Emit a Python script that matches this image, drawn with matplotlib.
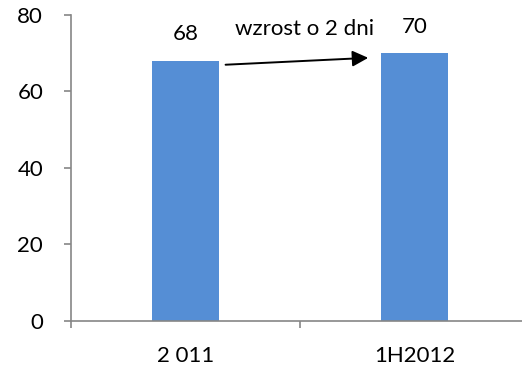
import matplotlib
matplotlib.use('Agg')
from matplotlib import pyplot as plt

# Chart data
categories = ['2 011', '1H2012']
values = [68, 70]
y_ticks = [0, 20, 40, 60, 80]
arrow_label = 'wzrost o 2 dni'

plt.rcParams['font.family'] = ['Lato', 'DejaVu Sans']

bar_color = '#558ed5'
axis_color = '#868686'
bar_width = 0.29
fsize = 16

fig = plt.figure(figsize=(5.22, 3.68), dpi=100)
ax = fig.add_axes([71 / 522, 47 / 368, 458 / 522, 306 / 368])

x = list(range(len(categories)))
ax.bar(x, values, width=bar_width, color=bar_color, zorder=2)

# value labels above bars
for xi, v in zip(x, values):
    ax.annotate(str(v), (xi, v), xytext=(0, 12), textcoords='offset points',
                ha='center', va='bottom', fontsize=fsize)

# arrow from first bar to second
ax.annotate('', xy=(x[1] - bar_width / 2 - 0.057, values[1] - 1.2),
            xytext=(x[0] + bar_width / 2 + 0.03, values[0] - 1.0),
            arrowprops=dict(arrowstyle='-|>', color='black', lw=1.4,
                            mutation_scale=24, shrinkA=0, shrinkB=0))
ax.text((x[0] + x[1]) / 2 + 0.02, 76.3, arrow_label, ha='center', va='center',
        fontsize=fsize)

ax.set_xlim(-0.5, len(categories) - 0.5)
ax.set_ylim(0, 80)
ax.set_yticks(y_ticks)

# boundary ticks on the category axis, labels centered under bars
ax.set_xticks([i - 0.5 for i in range(len(categories) + 1)])
ax.set_xticklabels([])
ax.set_xticks(x, minor=True)
ax.set_xticklabels(categories, minor=True)
ax.tick_params(axis='x', which='minor', length=0, pad=18, labelsize=fsize)
ax.tick_params(axis='x', which='major', length=5, direction='out',
               color=axis_color, width=1.2)
ax.tick_params(axis='y', length=5, direction='out', color=axis_color,
               width=1.2, pad=15, labelsize=fsize)

for side in ['top', 'right']:
    ax.spines[side].set_visible(False)
for side in ['left', 'bottom']:
    ax.spines[side].set_color(axis_color)
    ax.spines[side].set_linewidth(1.2)

fig.savefig('out.png', dpi=100)
